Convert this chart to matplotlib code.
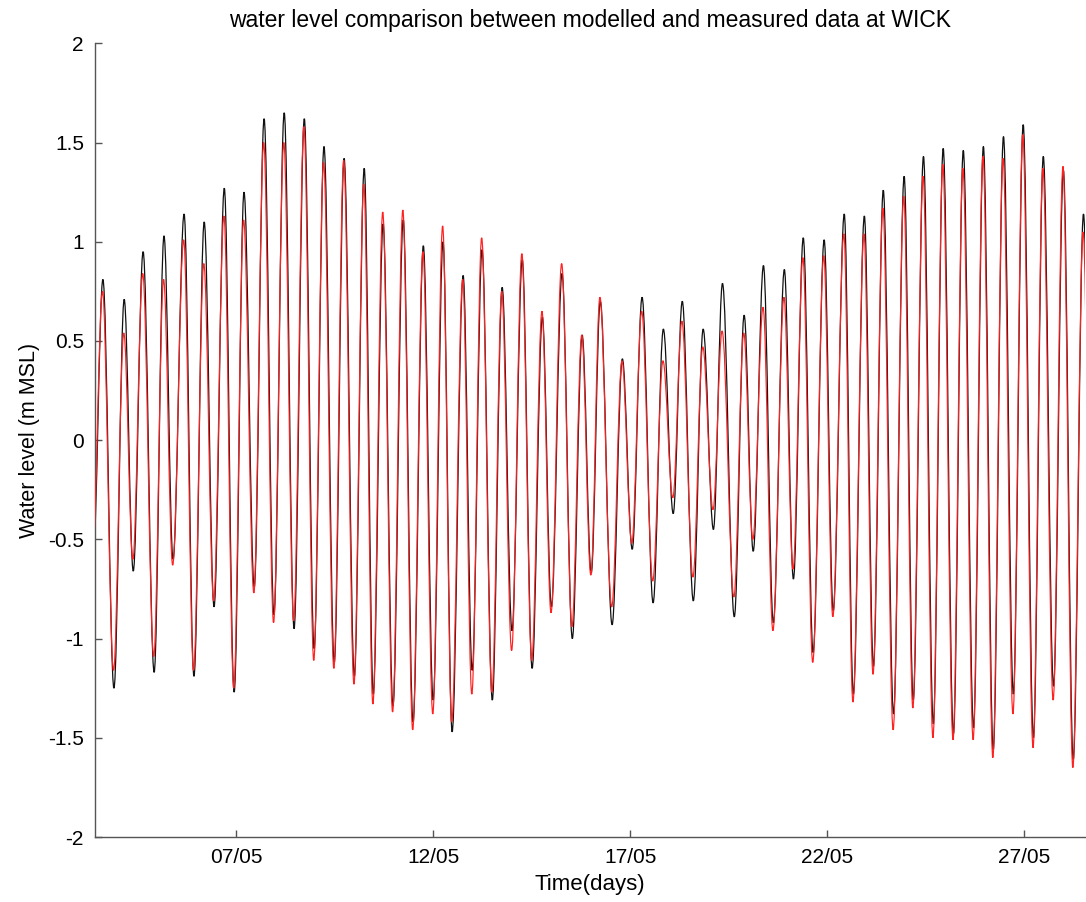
import matplotlib
matplotlib.use("Agg")
import matplotlib.pyplot as plt
from matplotlib.path import Path
from matplotlib.patches import PathPatch
import numpy as np

plt.rcParams['font.family'] = ['Liberation Sans', 'DejaVu Sans']

# ---- data: alternating low/high water times (day of May) and levels (m MSL)
extreme_days = [
    3.37, 3.62, 3.90, 4.16, 4.39, 4.64, 4.92, 5.17, 5.40, 5.68, 5.93, 6.19, 6.44, 6.70,
    6.95, 7.20, 7.46, 7.71, 7.96, 8.22, 8.47, 8.73, 8.98, 9.23, 9.49, 9.74, 10.00, 10.25,
    10.48, 10.73, 10.98, 11.24, 11.49, 11.75, 12.00, 12.25, 12.48, 12.76, 12.99, 13.24,
    13.50, 13.75, 14.00, 14.26, 14.51, 14.77, 15.00, 15.27, 15.53, 15.78, 16.01, 16.24,
    16.54, 16.80, 17.05, 17.30, 17.58, 17.84, 18.09, 18.32, 18.60, 18.85, 19.11, 19.34,
    19.64, 19.89, 20.12, 20.38, 20.63, 20.91, 21.14, 21.39, 21.64, 21.92, 22.15, 22.43,
    22.66, 22.94, 23.17, 23.42, 23.68, 23.95, 24.18, 24.44, 24.69, 24.94, 25.20, 25.45,
    25.71, 25.96, 26.21, 26.47, 26.72, 26.97, 27.23, 27.48, 27.74, 27.99, 28.24, 28.50,
    28.75,
]
measured_levels = [
    -0.60, 0.81, -1.25, 0.71, -0.66, 0.95, -1.17, 1.03, -0.60, 1.14, -1.19, 1.10, -0.84, 1.27,
    -1.27, 1.25, -0.74, 1.62, -0.88, 1.65, -0.95, 1.62, -1.05, 1.48, -1.12, 1.42, -1.19, 1.37,
    -1.28, 1.09, -1.34, 1.11, -1.42, 0.98, -1.31, 1.00, -1.47, 0.83, -1.16, 0.96,
    -1.31, 0.77, -0.96, 0.91, -1.15, 0.62, -0.84, 0.84, -1.00, 0.53, -0.67, 0.70,
    -0.93, 0.41, -0.55, 0.72, -0.82, 0.56, -0.37, 0.70, -0.81, 0.56, -0.45, 0.79,
    -0.89, 0.63, -0.56, 0.88, -0.92, 0.86, -0.70, 1.02, -1.07, 1.01, -0.86, 1.14,
    -1.28, 1.13, -1.14, 1.26, -1.38, 1.33, -1.31, 1.43, -1.43, 1.47, -1.48, 1.46,
    -1.45, 1.48, -1.56, 1.53, -1.28, 1.59, -1.50, 1.43, -1.24, 1.36, -1.61, 1.14,
    -1.40,
]
modelled_levels = [
    -0.55, 0.75, -1.16, 0.54, -0.60, 0.84, -1.09, 0.81, -0.63, 1.01, -1.16, 0.89, -0.81, 1.13,
    -1.25, 1.11, -0.77, 1.50, -0.92, 1.50, -0.91, 1.58, -1.11, 1.40, -1.15, 1.41, -1.23, 1.29,
    -1.33, 1.15, -1.37, 1.16, -1.46, 0.95, -1.38, 1.08, -1.42, 0.81, -1.28, 1.02,
    -1.27, 0.75, -1.06, 0.94, -1.11, 0.65, -0.87, 0.89, -0.94, 0.53, -0.68, 0.72,
    -0.84, 0.40, -0.52, 0.65, -0.71, 0.40, -0.29, 0.60, -0.69, 0.47, -0.35, 0.55,
    -0.79, 0.54, -0.50, 0.67, -0.96, 0.72, -0.65, 0.92, -1.12, 0.93, -0.89, 1.04,
    -1.32, 1.04, -1.18, 1.17, -1.46, 1.23, -1.35, 1.33, -1.50, 1.39, -1.51, 1.37,
    -1.51, 1.43, -1.60, 1.42, -1.38, 1.54, -1.55, 1.37, -1.31, 1.38, -1.65, 1.05,
    -1.45,
]
model_phase_shift = -0.010  # days

xtick_days = [7, 12, 17, 22, 27]
xtick_labels = ['07/05', '12/05', '17/05', '22/05', '27/05']
ytick_vals = [-2, -1.5, -1, -0.5, 0, 0.5, 1, 1.5, 2]
ytick_labels = ['-2', '-1.5', '-1', '-0.5', '0', '0.5', '1', '1.5', '2']


def tide_path(days, levels, k=0.36):
    """Smooth path through the extrema using cubic Bezier segments with
    horizontal tangents at each high / low water."""
    verts = [(days[0], levels[0])]
    codes = [Path.MOVETO]
    for i in range(len(days) - 1):
        t0, y0 = days[i], levels[i]
        t1, y1 = days[i + 1], levels[i + 1]
        dt = t1 - t0
        verts += [(t0 + k * dt, y0), (t1 - k * dt, y1), (t1, y1)]
        codes += [Path.CURVE4] * 3
    return Path(verts, codes)


fig = plt.figure(figsize=(10.86, 9.02), dpi=100)
ax = fig.add_axes([0.0875, 0.072, 0.912, 0.880])

meas = PathPatch(tide_path(extreme_days, measured_levels), facecolor='none',
                 edgecolor='#111111', lw=0.9, antialiased=True, zorder=2)
ax.add_patch(meas)
mod_days = [d + model_phase_shift for d in extreme_days]
model = PathPatch(tide_path(mod_days, modelled_levels), facecolor='none',
                  edgecolor='#ff2020', lw=0.85, antialiased=True, zorder=3)
ax.add_patch(model)

ax.set_xlim(3.42, 28.55)
ax.set_ylim(-2, 2)
ax.set_xticks(xtick_days)
ax.set_xticklabels(xtick_labels)
ax.set_yticks(ytick_vals)
ax.set_yticklabels(ytick_labels)

for s in ['top', 'right']:
    ax.spines[s].set_visible(False)
for s in ['left', 'bottom']:
    ax.spines[s].set_color('#555555')
    ax.spines[s].set_linewidth(1.0)

ax.tick_params(direction='in', length=5, width=1, colors='#555555',
               labelcolor='black', labelsize=15, pad=8)

ax.set_title('water level comparison between modelled and measured data at WICK',
             fontsize=16.5, pad=12)
ax.set_xlabel('Time(days)', fontsize=16, labelpad=5)
ax.set_ylabel('Water level (m MSL)', fontsize=15.5, labelpad=6)

fig.savefig('out.png', dpi=100)
